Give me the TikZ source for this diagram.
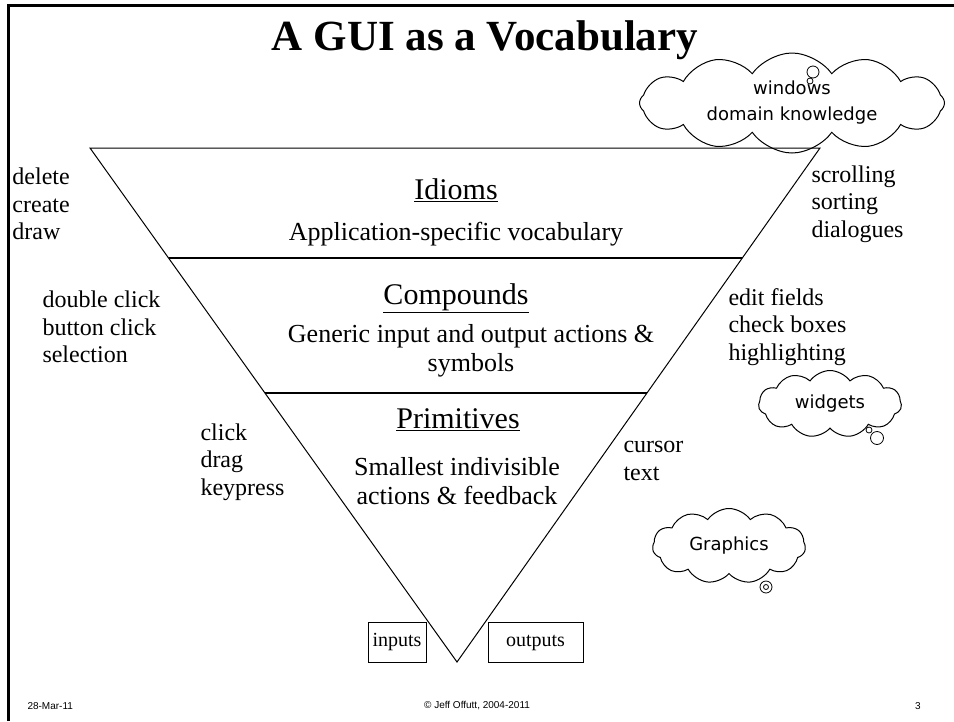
\documentclass[tikz,border=0pt]{standalone}
\usepackage{fontspec}
\setmainfont{Liberation Serif}
\setsansfont{Liberation Sans}
\newfontfamily\cloudfont{DejaVu Sans}
\usetikzlibrary{shapes.symbols,calc}

\begin{document}
\begin{tikzpicture}[x=1pt, y=-1pt, line width=1pt,
      every node/.append style={inner sep=0pt},
      heading/.style={font=\fontsize{30}{34}\selectfont},
      body/.style={font=\fontsize{26}{29}\selectfont, align=center},
      wordlist/.style={font=\fontsize{24}{27.5}\selectfont, align=left, anchor=west},
      iobox/.style={draw, font=\fontsize{20}{24}\selectfont, minimum height=40pt, text height=13pt, text depth=4pt},
      thought/.style={cloud, draw, cloud puffs=11, cloud puff arc=110, aspect=2.5, font=\cloudfont\fontsize{18}{26}\selectfont, align=center},
      bubble/.style={circle, draw, line width=0.8pt},
      footer/.style={font=\sffamily\fontsize{10}{12}\selectfont}]
    \useasboundingbox (0,0) rectangle (954,721);
    \draw[line width=3pt] (8,721) -- (8,5) -- (954,5);
    \node (title) [font=\bfseries\fontsize{43}{46}\selectfont] at (485,40) {A GUI as a Vocabulary};

    % the vocabulary triangle
    \coordinate (tl) at (90,148);
    \coordinate (tr) at (820,148);
    \coordinate (apex) at (457,662);
    \draw (tl) -- (tr) -- (apex) -- cycle;
    \coordinate (cl) at ($(tl)!0.214!(apex)$);
    \coordinate (cr) at ($(tr)!0.214!(apex)$);
    \coordinate (pl) at ($(tl)!0.4767!(apex)$);
    \coordinate (pr) at ($(tr)!0.4767!(apex)$);
    \draw[line width=1.5pt] (cl) -- (cr);
    \draw[line width=1.5pt] (pl) -- (pr);

    \node (idioms) [heading] at (456,190) {\underline{Idioms}};
    \node (idiomsText) [body] at (456,234) {Application-specific vocabulary};
    \node (compounds) [heading] at (456,298) {\underline{Compounds}};
    \node (compoundsText) [body] at (471,351) {Generic input and output actions \&\\symbols};
    \node (primitives) [heading] at (458,420) {\underline{Primitives}};
    \node (primitivesText) [body] at (457,481) {Smallest indivisible\\actions \& feedback};

    % examples on both sides
    \node (idiomsIn) [wordlist] at (12,204) {delete\\create\\draw};
    \node (compoundsIn) [wordlist] at (42,327) {double click\\button click\\selection};
    \node (primitivesIn) [wordlist] at (200,462) {click\\drag\\keypress};
    \node (idiomsOut) [wordlist] at (811,204) {scrolling\\sorting\\dialogues};
    \node (compoundsOut) [wordlist] at (728,327) {edit fields\\check boxes\\highlighting};
    \node (primitivesOut) [wordlist] at (623,461) {cursor\\text};

    \node (inputs) [iobox, minimum width=58pt] at (397,642) {inputs};
    \node (outputs) [iobox, minimum width=95pt] at (535.5,642) {outputs};

    % thought clouds
    \node (windows) [thought, cloud ignores aspect, cloud puffs=12, minimum width=305pt, minimum height=100pt] at (792,103) {windows\\domain knowledge};
    \node (windowsB1) [bubble, minimum size=12pt] at (813,72) {};
    \node (windowsB2) [bubble, minimum size=6pt] at (810,81) {};
    \node (widgets) [thought, minimum width=143pt, minimum height=67pt] at (830,404) {widgets};
    \node (widgetsB1) [bubble, minimum size=13pt] at (877,438) {};
    \node (widgetsB2) [bubble, minimum size=6pt] at (869,430) {};
    \node (graphics) [thought, minimum width=153pt, minimum height=75pt] at (729,546) {Graphics};
    \node (graphicsB1) [bubble, minimum size=12pt] at (766,587) {};
    \node (graphicsB2) [bubble, minimum size=5pt] at (766,587) {};

    \node (date) [footer, anchor=west] at (27,706) {28-Mar-11};
    \node (copyright) [footer] at (477,706) {© Jeff Offutt, 2004-2011};
    \node (page) [footer] at (918,706) {3};
\end{tikzpicture}
\end{document}
